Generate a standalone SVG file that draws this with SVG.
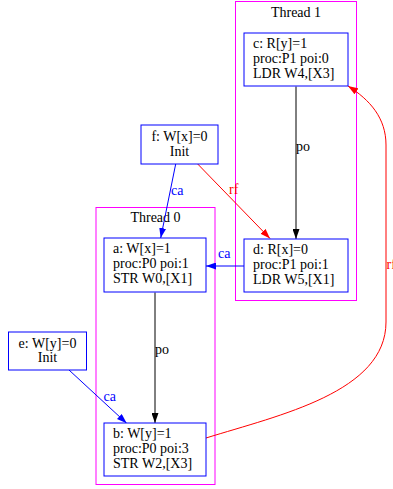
<svg xmlns="http://www.w3.org/2000/svg" width="393" height="489" viewBox="0 0 393 489">
<style>
text{font-family:"Liberation Serif","Times New Roman",serif;font-size:14px}
.cl{fill:none;stroke:#ff00ff;stroke-width:1}
.nd{fill:#fff;stroke:#0000ff;stroke-width:1}
.e{fill:none;stroke-width:1}
.blk{stroke:#000}
.blu{stroke:#0000ff}
.red{stroke:#ff0000}
.tb{fill:#0000ff}
.tr{fill:#ff0000}
.mid{text-anchor:middle}
</style>
<defs>
<marker id="ab" viewBox="0 0 10 7" refX="10" refY="3.5" markerWidth="10" markerHeight="7" markerUnits="userSpaceOnUse" orient="auto"><path d="M0,0L10,3.5L0,7z" fill="#000"/></marker>
<marker id="au" viewBox="0 0 10 7" refX="10" refY="3.5" markerWidth="10" markerHeight="7" markerUnits="userSpaceOnUse" orient="auto"><path d="M0,0L10,3.5L0,7z" fill="#0000ff"/></marker>
<marker id="ar" viewBox="0 0 10 7" refX="10" refY="3.5" markerWidth="10" markerHeight="7" markerUnits="userSpaceOnUse" orient="auto"><path d="M0,0L10,3.5L0,7z" fill="#ff0000"/></marker>
</defs>
<rect width="393" height="489" fill="#fff"/>
<g id="cluster1">
<rect class="cl" x="235.5" y="1.5" width="121" height="299"/>
<text class="mid" x="296" y="17">Thread 1</text>
</g>
<g id="cluster0">
<rect class="cl" x="96" y="207.5" width="119" height="277"/>
<text class="mid" x="155.5" y="222">Thread 0</text>
</g>
<g id="edges">
<path class="e blk" d="M296,86.5L296,239" marker-end="url(#ab)"/>
<text x="296" y="151">po</text>
<path class="e blk" d="M155,292.5L155,423" marker-end="url(#ab)"/>
<text x="155" y="354">po</text>
<path class="e blu" d="M175.7,164L160.7,238" marker-end="url(#au)"/>
<text class="tb" x="171" y="195">ca</text>
<path class="e red" d="M197.7,164L270,238.5" marker-end="url(#ar)"/>
<text class="tr" x="229" y="194">rf</text>
<path class="e blu" d="M244,266L206,266" marker-end="url(#au)"/>
<text class="tb" x="218" y="258">ca</text>
<path class="e blu" d="M69,370L126.7,423.3" marker-end="url(#au)"/>
<text class="tb" x="103.5" y="400.5">ca</text>
<path class="e red" d="M206,438C280,415 386,392 386,322L386,145C386,118 370,100 348,86" marker-end="url(#ar)"/>
<text class="tr" x="386.5" y="269">rf</text>
</g>
<g id="c">
<rect class="nd" x="244" y="33" width="104" height="53"/>
<text x="253" y="48">c: R[y]=1</text>
<text x="253" y="63">proc:P1 poi:0</text>
<text x="253" y="78">LDR W4,[X3]</text>
</g>
<g id="d">
<rect class="nd" x="244" y="239" width="104" height="53"/>
<text x="253" y="254">d: R[x]=0</text>
<text x="253" y="269">proc:P1 poi:1</text>
<text x="253" y="284">LDR W5,[X1]</text>
</g>
<g id="a">
<rect class="nd" x="104" y="238" width="102" height="54"/>
<text x="113" y="253">a: W[x]=1</text>
<text x="113" y="268">proc:P0 poi:1</text>
<text x="113" y="283">STR W0,[X1]</text>
</g>
<g id="b">
<rect class="nd" x="104" y="423" width="102" height="53"/>
<text x="113" y="438">b: W[y]=1</text>
<text x="113" y="453">proc:P0 poi:3</text>
<text x="113" y="468">STR W2,[X3]</text>
</g>
<g id="f">
<rect class="nd" x="141" y="125" width="77" height="39"/>
<text class="mid" x="179.5" y="141">f: W[x]=0</text>
<text class="mid" x="179.5" y="156">Init</text>
</g>
<g id="e">
<rect class="nd" x="8.5" y="332" width="78" height="38"/>
<text class="mid" x="47.5" y="348">e: W[y]=0</text>
<text class="mid" x="47.5" y="362">Init</text>
</g>
</svg>
